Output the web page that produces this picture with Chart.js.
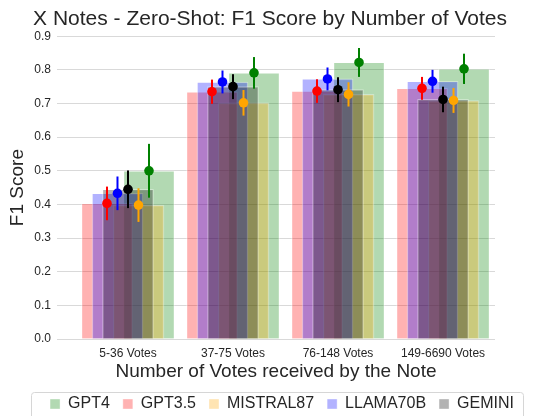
<!DOCTYPE html>
<html>
<head>
<meta charset="utf-8">
<script src="https://cdn.jsdelivr.net/npm/chart.js@4.4.1/dist/chart.umd.min.js"></script>
<style>
  html, body { margin: 0; padding: 0; background: #fff; }
  #wrap { width: 540px; height: 416px; }
</style>
</head>
<body>
<div id="wrap"><canvas id="f1-chart" width="540" height="416"></canvas></div>
<script>
// vote buckets
var categories = ['5-36 Votes', '37-75 Votes', '76-148 Votes', '149-6690 Votes'];

// mean F1 per model, one value per bucket
var gpt4 = [0.500, 0.791, 0.822, 0.803];
var gpt35 = [0.403, 0.735, 0.737, 0.745];
var mistral = [0.398, 0.702, 0.727, 0.709];
var llama = [0.433, 0.764, 0.773, 0.766];
var gemini = [0.445, 0.750, 0.741, 0.712];

// half width of the error bars
var gpt4Err = [0.080, 0.047, 0.043, 0.045];
var gpt35Err = [0.050, 0.036, 0.035, 0.034];
var mistralErr = [0.050, 0.038, 0.036, 0.037];
var llamaErr = [0.050, 0.034, 0.034, 0.034];
var geminiErr = [0.056, 0.037, 0.037, 0.038];

var yTicks = [0, 0.1, 0.2, 0.3, 0.4, 0.5, 0.6, 0.7, 0.8, 0.9];

// legend order; slot = position inside the bucket (bars are shifted, not grouped)
var models = [
  { name: 'GPT4', values: gpt4, err: gpt4Err, color: '0, 128, 0', point: 'green', slot: 2 },
  { name: 'GPT3.5', values: gpt35, err: gpt35Err, color: '255, 0, 0', point: 'red', slot: -2 },
  { name: 'MISTRAL87', values: mistral, err: mistralErr, color: '255, 165, 0', point: 'orange', slot: 1 },
  { name: 'LLAMA70B', values: llama, err: llamaErr, color: '0, 0, 255', point: 'blue', slot: -1 },
  { name: 'GEMINI', values: gemini, err: geminiErr, color: '0, 0, 0', point: 'black', slot: 0 }
];

var shift = 0.1;
var textColor = '#262626';
var fontFamily = "'Liberation Sans', Arial, sans-serif";

function makeDatasets() {
  // higher order is painted first, so GPT4 ends up at the bottom of the pile
  var bars = models.map(function (m, k) {
    return {
      type: 'bar',
      label: m.name,
      order: models.length - k,
      data: m.values.map(function (v, i) { return { x: i + m.slot * shift, y: v }; }),
      backgroundColor: 'rgba(' + m.color + ', 0.3)',
      borderColor: 'rgba(255, 255, 255, 0.35)',
      borderWidth: 1,
      borderSkipped: 'bottom',
      barThickness: 51,
      grouped: false
    };
  });
  var dots = models.map(function (m) {
    return {
      type: 'scatter',
      label: m.name + ' mean',
      order: 0,
      data: m.values.map(function (v, i) { return { x: i + m.slot * shift, y: v }; }),
      errors: m.err,
      backgroundColor: m.point,
      borderColor: m.point,
      pointRadius: 4.8,
      pointBorderWidth: 0
    };
  });
  return bars.concat(dots);
}

// error bars + legend frame
var extras = {
  id: 'extras',
  afterLayout: function (chart) {
    var lg = chart.legend;
    lg.left += 12; lg.right += 12;
  },
  afterDatasetDraw: function (chart, args) {
    // draw all error bars once the last bar dataset is painted, under the dots
    var ds = chart.data.datasets[args.index];
    if (ds.type !== 'bar' || ds.order !== 1) return;
    var ctx = chart.ctx;
    var xs = chart.scales.x, ys = chart.scales.y;
    ctx.save();
    ctx.lineWidth = 2;
    chart.data.datasets.forEach(function (d) {
      if (!d.errors) return;
      ctx.strokeStyle = d.borderColor;
      d.data.forEach(function (p, i) {
        var px = xs.getPixelForValue(p.x);
        ctx.beginPath();
        ctx.moveTo(px, ys.getPixelForValue(p.y - d.errors[i]));
        ctx.lineTo(px, ys.getPixelForValue(p.y + d.errors[i]));
        ctx.stroke();
      });
    });
    ctx.restore();
  },
  afterDraw: function (chart) {
    var hb = chart.legend.legendHitBoxes;
    if (!hb || !hb.length) return;
    var ctx = chart.ctx;
    var last = hb[hb.length - 1];
    var x0 = hb[0].left - 19;
    var x1 = last.left + last.width + 9;
    ctx.save();
    ctx.strokeStyle = '#d6d6d6';
    ctx.lineWidth = 1;
    ctx.beginPath();
    ctx.roundRect(Math.round(x0) + 0.5, 392.5, Math.round(x1 - x0), 40, 3);
    ctx.stroke();
    ctx.restore();
  }
};

function makeChart() {
  var ctx = document.getElementById('f1-chart').getContext('2d');
  new Chart(ctx, {
    type: 'bar',
    data: { datasets: makeDatasets() },
    plugins: [extras],
    options: {
      responsive: false,
      animation: false,
      layout: { padding: { left: 6, right: 6, top: 0, bottom: 0 } },
      plugins: {
        tooltip: { enabled: false },
        title: {
          display: true,
          text: 'X Notes - Zero-Shot: F1 Score by Number of Votes',
          color: textColor,
          font: { family: fontFamily, size: 21, weight: 'normal' },
          padding: { top: 7, bottom: 4 }
        },
        legend: {
          position: 'bottom',
          maxHeight: 33,
          labels: {
            filter: function (item) { return item.datasetIndex < models.length; },
            sort: function (a, b) { return a.datasetIndex - b.datasetIndex; },
            color: textColor,
            font: { family: fontFamily, size: 16 },
            boxWidth: 10,
            boxHeight: 10,
            padding: 13
          }
        }
      },
      scales: {
        x: {
          type: 'linear',
          offset: false,
          min: -0.676,
          max: 3.495,
          afterBuildTicks: function (axis) {
            axis.ticks = categories.map(function (c, i) { return { value: i }; });
          },
          afterFit: function (axis) { axis.height = 44; },
          grid: { display: false, drawTicks: false, offset: false },
          border: { display: false },
          ticks: {
            autoSkip: false,
            maxRotation: 0,
            padding: 7,
            color: textColor,
            font: { family: fontFamily, size: 12 },
            callback: function (v) { return categories[v]; }
          },
          title: {
            display: true,
            text: 'Number of Votes received by the Note',
            color: textColor,
            font: { family: fontFamily, size: 19 },
            padding: { top: 0, bottom: 0 }
          }
        },
        y: {
          min: 0,
          max: 0.9,
          afterBuildTicks: function (axis) {
            axis.ticks = yTicks.map(function (v) { return { value: v }; });
          },
          afterFit: function (axis) { axis.width = 51; },
          grid: { color: '#d9d9d9', lineWidth: 1, drawTicks: false },
          border: { display: false },
          ticks: {
            padding: 6,
            color: textColor,
            font: { family: fontFamily, size: 12 },
            callback: function (v) { return v.toFixed(1); }
          },
          title: {
            display: true,
            text: 'F1 Score',
            color: textColor,
            font: { family: fontFamily, size: 19 },
            padding: { top: 0, bottom: 5 }
          }
        },
        spare: {
          type: 'linear',
          position: 'right',
          display: true,
          grid: { display: false, drawTicks: false },
          border: { display: false },
          ticks: { display: false },
          afterFit: function (axis) { axis.width = 39; }
        }
      }
    }
  });
}

makeChart();
</script>
</body>
</html>
